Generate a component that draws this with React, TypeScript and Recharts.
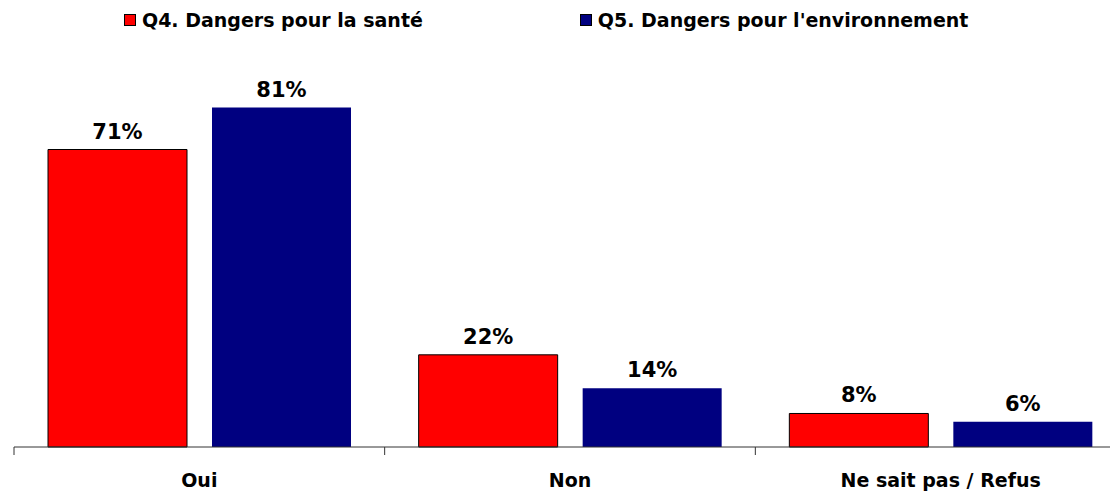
import React from "react";
import { BarChart, Bar, XAxis, YAxis, LabelList } from "recharts";

const categories = ["Oui", "Non", "Ne sait pas / Refus"];
const sante = [71, 22, 8];
const environnement = [81, 14, 6];
const seriesNames = ["Q4. Dangers pour la santé", "Q5. Dangers pour l'environnement"];
const seriesColors = ["#FF0000", "#000080"];

const data = categories.map((c, i) => ({ cat: c, sante: sante[i], env: environnement[i] }));

const FONT = "Verdana, 'DejaVu Sans', sans-serif";
const CHART_W = 1126;
const MARGIN = { top: 28, right: 0, bottom: 0, left: 14 };
const HALF_BAND = (CHART_W - MARGIN.left - MARGIN.right) / categories.length / 2;

const CatTick = (props: any) => {
  const { x, payload, index } = props;
  const axisY = 447;
  const last = index === categories.length - 1;
  return (
    <g>
      <line x1={x - HALF_BAND} x2={x - HALF_BAND} y1={axisY} y2={axisY + 8} stroke="#333" strokeWidth={1} />
      {last && <line x1={x + HALF_BAND} x2={x + HALF_BAND} y1={axisY} y2={axisY + 8} stroke="#333" strokeWidth={1} />}
      <text x={x} y={axisY + 40} textAnchor="middle" fontFamily={FONT} fontWeight="bold" fontSize={19} fill="#000">
        {payload.value}
      </text>
    </g>
  );
};

const fmt = (v: any) => `${v}%`;
const labelStyle = { fontFamily: FONT, fontWeight: "bold", fontSize: 21, fill: "#000" };

export default function App() {
  return (
    <div style={{ position: "absolute", left: 0, top: 0, width: 1110, height: 492, overflow: "hidden", background: "#fff" }}>
      <div style={{ position: "absolute", top: 9, left: 124, display: "flex", alignItems: "center", fontFamily: FONT, fontWeight: "bold", fontSize: 19, color: "#000" }}>
        {seriesNames.map((n, i) => (
          <div key={n} style={{ display: "flex", alignItems: "center", marginRight: i === 0 ? 157 : 0 }}>
            <span style={{ display: "inline-block", width: 10, height: 10, background: seriesColors[i], border: "1px solid #000", marginRight: 6 }} />
            <span>{n}</span>
          </div>
        ))}
      </div>
      <BarChart width={CHART_W} height={492} data={data} margin={MARGIN} barGap={25} barCategoryGap={34}>
        <XAxis dataKey="cat" height={45} tickLine={false} axisLine={{ stroke: "#333" }} tick={<CatTick />} interval={0} />
        <YAxis hide domain={[0, 100]} />
        <Bar dataKey="sante" fill={seriesColors[0]} stroke="#000" strokeWidth={1} isAnimationActive={false}>
          <LabelList dataKey="sante" position="top" offset={11} formatter={fmt} style={labelStyle} />
        </Bar>
        <Bar dataKey="env" fill={seriesColors[1]} isAnimationActive={false}>
          <LabelList dataKey="env" position="top" offset={11} formatter={fmt} style={labelStyle} />
        </Bar>
      </BarChart>
    </div>
  );
}
